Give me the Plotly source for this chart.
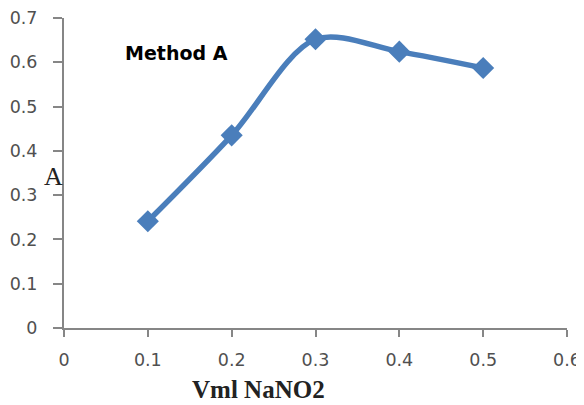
import plotly.graph_objects as go

volumes = [0.1, 0.2, 0.3, 0.4, 0.5]
absorbance = [0.241, 0.435, 0.652, 0.624, 0.587]
x_ticks = [0, 0.1, 0.2, 0.3, 0.4, 0.5, 0.6]
y_ticks = [0, 0.1, 0.2, 0.3, 0.4, 0.5, 0.6, 0.7]

# the page body adds an 8px offset; compensate so the plot lands where the reference has it
OFF = 8
W, H = 584 - OFF, 405 - OFF
ml, mr, mt, mb = 64 - OFF, 17, 18 - OFF, 77
pw, ph = W - ml - mr, H - mt - mb


def px_x(x):
    return (x - OFF - ml) / pw


def px_y(y):
    return 1 - (y - OFF - mt) / ph


fig = go.Figure()
fig.add_trace(go.Scatter(
    x=volumes, y=absorbance, mode="lines+markers",
    line=dict(color="#4a7ebb", width=5.5, shape="spline", smoothing=0.9),
    marker=dict(symbol="diamond", size=17, color="#4a7ebb"),
    showlegend=False, cliponaxis=False,
))

tickfont = dict(family="DejaVu Sans, sans-serif", size=17.5, color="#505050")
axis_common = dict(
    showgrid=False, zeroline=False, showline=True,
    linecolor="#868686", linewidth=2,
    ticks="outside", tickwidth=2, tickcolor="#868686",
    tickfont=tickfont, automargin=False, ticklabeloverflow="allow",
)
fig.update_xaxes(range=[0, 0.6], tickvals=x_ticks, ticklen=7, ticklabelstandoff=8,
                 ticktext=[f"{v:g}" for v in x_ticks], **axis_common)
fig.update_yaxes(range=[0, 0.7], tickvals=y_ticks, ticklen=9, ticklabelstandoff=12,
                 ticktext=[f"{v:g}" for v in y_ticks], **axis_common)

fig.add_annotation(text="<b>Method A</b>", xref="paper", yref="paper",
                   x=px_x(123), y=px_y(53),
                   xanchor="left", yanchor="middle", showarrow=False,
                   font=dict(family="DejaVu Sans, sans-serif", size=19, color="#000000"))
fig.add_annotation(text="<b>Vml NaNO2</b>", xref="paper", yref="paper",
                   x=px_x(258), y=px_y(389),
                   xanchor="center", yanchor="middle", showarrow=False,
                   font=dict(family="Liberation Serif, serif", size=25, color="#222222"))
fig.add_annotation(text="A", xref="paper", yref="paper",
                   x=px_x(53), y=px_y(176),
                   xanchor="center", yanchor="middle", showarrow=False,
                   font=dict(family="Liberation Serif, serif", size=26, color="#222222"))

fig.update_layout(
    width=W, height=H,
    margin=dict(l=ml, r=mr, t=mt, b=mb),
    paper_bgcolor="white", plot_bgcolor="white",
)
fig.write_html("out.html")
